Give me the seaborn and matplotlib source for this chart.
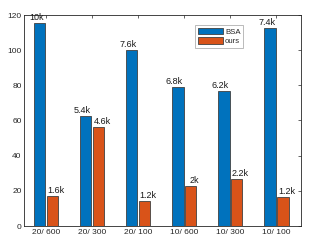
import matplotlib
matplotlib.use("Agg")
import matplotlib.pyplot as plt
import seaborn as sns
import pandas as pd

groups = ["20/ 600", "20/ 300", "20/ 100", "10/ 600", "10/ 300", "10/ 100"]
methods = ["BSA", "ours"]
bsa_values = [115.5, 62.6, 100.0, 78.9, 76.6, 112.4]
ours_values = [17.1, 56.1, 14.2, 22.6, 26.6, 16.3]
bsa_labels = ["10k", "5.4k", "7.6k", "6.8k", "6.2k", "7.4k"]
ours_labels = ["1.6k", "4.6k", "1.2k", "2k", "2.2k", "1.2k"]
colors = ["#0072BD", "#D95319"]

df = pd.DataFrame({
    "group": groups * 2,
    "method": [methods[0]] * len(groups) + [methods[1]] * len(groups),
    "value": bsa_values + ours_values,
})

sns.set_style("white")
plt.rcParams["font.family"] = ["Liberation Sans", "DejaVu Sans"]

fig = plt.figure(figsize=(3.15, 2.45), dpi=100)
ax = fig.add_axes([24.3 / 315, 19 / 245, 276.4 / 315, 211 / 245])

sns.barplot(data=df, x="group", y="value", hue="method", order=groups,
            hue_order=methods, palette=colors, width=0.56, gap=0.1,
            edgecolor="#404040", linewidth=0.6, saturation=1, ax=ax)

ax.set_xlim(-0.47, 5.53)
ax.set_ylim(0, 120)
ax.set_yticks([0, 20, 40, 60, 80, 100, 120])
ax.set_xlabel("")
ax.set_ylabel("")

for spine in ax.spines.values():
    spine.set_visible(True)
    spine.set_color("#262626")
    spine.set_linewidth(0.6)

ax.tick_params(axis="both", which="both", direction="in", length=2.5, width=0.5,
               labelsize=6, colors="#262626", top=True, right=True,
               pad=2)

for cont, labs, dx in zip(ax.containers, [bsa_labels, ours_labels], [-0.07, 0.08]):
    for bar, lab in zip(cont, labs):
        x = bar.get_x() + bar.get_width() / 2 + dx
        y = bar.get_height()
        ax.text(x, y + 0.5, lab, ha="center", va="bottom", fontsize=6.5,
                color="#1a1a1a")

handles, labels = ax.get_legend_handles_labels()
leg = ax.legend(handles, labels, loc="upper left", bbox_to_anchor=(0.618, 0.953),
                borderaxespad=0, fontsize=5.6, handlelength=3.2, handleheight=0.9,
                handletextpad=0.3, labelspacing=0.25, borderpad=0.35,
                fancybox=False, framealpha=1, edgecolor="#a0a0a0")
leg.get_frame().set_linewidth(0.5)

fig.savefig("out.png", dpi=100)
